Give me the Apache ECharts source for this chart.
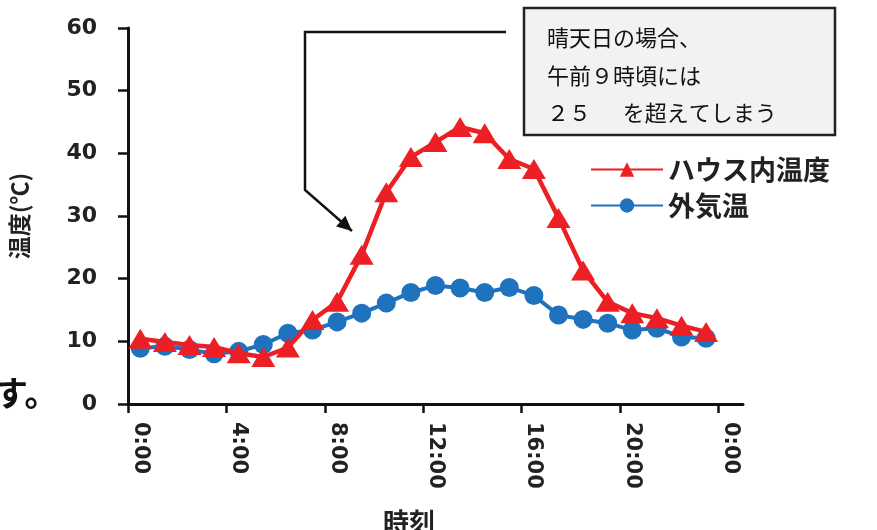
<!DOCTYPE html>
<html>
<head>
<meta charset="utf-8">
<script src="https://cdn.jsdelivr.net/npm/echarts@6/dist/echarts.min.js"></script>
<style>
  html, body { margin: 0; padding: 0; background: #ffffff; }
  #chart { width: 877px; height: 530px; }
</style>
</head>
<body>
<div id="chart"></div>
<script>
// Hourly categories (one extra 0:00 slot closes the day)
const hours = ['0:00','1:00','2:00','3:00','4:00','5:00','6:00','7:00','8:00','9:00','10:00','11:00',
               '12:00','13:00','14:00','15:00','16:00','17:00','18:00','19:00','20:00','21:00','22:00','23:00','0:00'];

// Greenhouse inside temperature (℃)
const insideTemp = [10.4, 9.9, 9.4, 9.1, 8.1, 7.5, 9.0, 13.4, 16.3, 23.8, 33.8, 39.4,
                    41.8, 44.2, 43.2, 39.1, 37.5, 29.7, 21.3, 16.3, 14.5, 13.7, 12.5, 11.5];

// Outside air temperature (℃)
const outsideTemp = [8.9, 9.2, 8.7, 8.0, 8.4, 9.5, 11.3, 11.8, 13.1, 14.5, 16.1, 17.8,
                     18.9, 18.5, 17.8, 18.6, 17.3, 14.2, 13.5, 12.9, 11.8, 12.1, 10.7, 10.5];

// Tick marks sit on every fourth hour boundary
const hourTicks = [0, 4, 8, 12, 16, 20, 24];

const seriesNames = ['ハウス内温度', '外気温'];
const yTicks = { min: 0, max: 60, interval: 10 };
const noteLines = ['晴天日の場合、', '午前９時頃には', '２５　  を超えてしまう'];

const RED = '#ec1f25';
const BLUE = '#1f72be';
const numFont = '"DejaVu Sans", Verdana, sans-serif';
const jpFont = '"Noto Sans CJK JP", "Noto Sans", sans-serif';

const chart = echarts.init(document.getElementById('chart'), null, { renderer: 'canvas' });

// callout connector: box edge -> elbow -> arrow tip
const lead = [[506, 32], [305, 32], [305, 190], [352, 231]];
const a = lead[2], b = lead[3];
const ang = Math.atan2(b[1] - a[1], b[0] - a[0]);
const headLen = 15, headHalf = 7;
const baseX = b[0] - headLen * Math.cos(ang), baseY = b[1] - headLen * Math.sin(ang);
const arrowHead = [
  [b[0], b[1]],
  [baseX + headHalf * Math.sin(ang), baseY - headHalf * Math.cos(ang)],
  [baseX - headHalf * Math.sin(ang), baseY + headHalf * Math.cos(ang)]
];

const option = {
  backgroundColor: '#ffffff',
  animation: false,
  grid: { left: 127, right: 134, top: 28, bottom: 126, containLabel: false },
  legend: {
    data: seriesNames,
    orient: 'vertical',
    left: 585,
    top: 151,
    itemWidth: 72,
    itemHeight: 18,
    itemGap: 9,
    textStyle: { fontFamily: jpFont, fontWeight: 'bold', fontSize: 27, color: '#222' }
  },
  xAxis: [
    {
      type: 'category',
      data: hours,
      boundaryGap: true,
      axisLine: { lineStyle: { color: '#111', width: 3 } },
      axisTick: { show: false },
      axisLabel: {
        interval: 3,
        rotate: -90,
        margin: 18,
        fontFamily: numFont,
        fontWeight: 'bold',
        fontSize: 21,
        color: '#222'
      },
      splitLine: { show: false }
    },
    {
      // hour scale carrying only the boundary tick marks
      type: 'value',
      position: 'bottom',
      min: 0,
      max: hours.length,
      axisLine: { show: false },
      axisTick: { show: true, customValues: hourTicks, length: 9, lineStyle: { color: '#111', width: 2.5 } },
      axisLabel: { show: false },
      splitLine: { show: false }
    }
  ],
  yAxis: {
    type: 'value',
    min: yTicks.min,
    max: yTicks.max,
    interval: yTicks.interval,
    name: '温度(℃)',
    nameLocation: 'middle',
    nameRotate: 90,
    nameGap: 97,
    nameTextStyle: { fontFamily: jpFont, fontWeight: 'bold', fontSize: 23, color: '#222' },
    axisLine: { show: true, lineStyle: { color: '#111', width: 3 } },
    axisTick: { show: true, length: 10, lineStyle: { color: '#111', width: 2.5 } },
    axisLabel: { margin: 31, fontFamily: numFont, fontWeight: 'bold', fontSize: 22, color: '#222' },
    splitLine: { show: false }
  },
  series: [
    {
      name: seriesNames[1],
      type: 'line',
      data: outsideTemp,
      xAxisIndex: 0,
      symbol: 'circle',
      symbolSize: 19,
      showAllSymbol: true,
      lineStyle: { color: BLUE, width: 4 },
      itemStyle: { color: BLUE },
      z: 2
    },
    {
      name: seriesNames[0],
      type: 'line',
      data: insideTemp,
      xAxisIndex: 0,
      symbol: 'triangle',
      symbolSize: [24, 20],
      showAllSymbol: true,
      lineStyle: { color: RED, width: 4.5 },
      itemStyle: { color: RED },
      z: 3
    }
  ],
  graphic: [
    {
      type: 'polyline',
      shape: { points: lead },
      style: { stroke: '#111', lineWidth: 2.5, fill: null },
      z: 10
    },
    {
      type: 'polygon',
      shape: { points: arrowHead },
      style: { fill: '#111' },
      z: 10
    },
    {
      type: 'rect',
      shape: { x: 524, y: 8, width: 311, height: 127 },
      style: { fill: '#f2f2f2', stroke: '#222', lineWidth: 2.5 },
      z: 10
    },
    ...noteLines.map((t, i) => ({
      type: 'text',
      left: 547,
      top: 27 + i * 37.5,
      style: { text: t, fontFamily: jpFont, fontSize: 22, fill: '#111' },
      z: 11
    })),
    {
      type: 'text',
      left: 383,
      top: 509,
      style: { text: '時刻', fontFamily: jpFont, fontWeight: 'bold', fontSize: 26, fill: '#222' },
      z: 11
    },
    {
      type: 'text',
      left: -6,
      top: 376,
      style: { text: 'す。', fontFamily: jpFont, fontWeight: 'bold', fontSize: 34, fill: '#111' },
      z: 11
    }
  ]
};

chart.setOption(option);
</script>
</body>
</html>
